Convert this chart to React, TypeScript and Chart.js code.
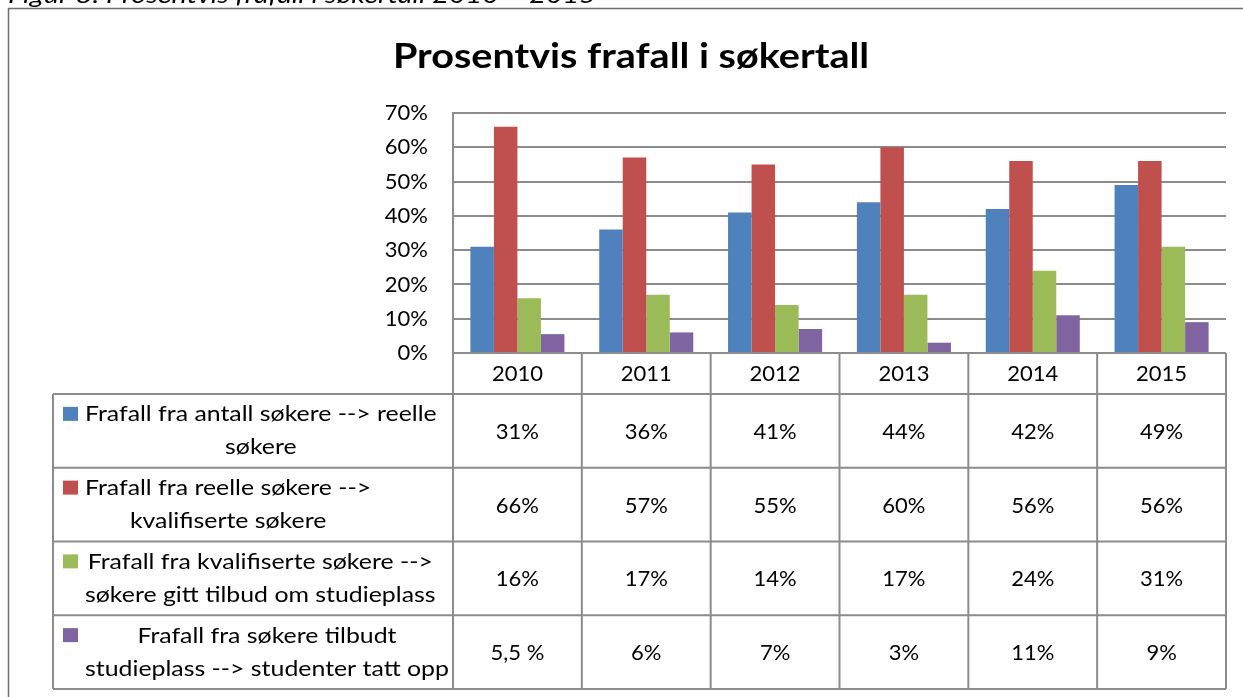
import { useEffect, useRef } from "react";
import { Chart, registerables } from "chart.js";

Chart.register(...registerables);

const FONT = "Lato, 'Open Sans', sans-serif";

const caption = "Figur 8: Prosentvis frafall i søkertall 2010 – 2015";
const title = "Prosentvis frafall i søkertall";

const years = ["2010", "2011", "2012", "2013", "2014", "2015"];

const seriesLabels = [
  ["Frafall fra antall søkere --> reelle", "søkere"],
  ["Frafall fra reelle søkere -->", "kvalifiserte søkere"],
  ["Frafall fra kvalifiserte søkere -->", "søkere gitt tilbud om studieplass"],
  ["Frafall fra søkere tilbudt", "studieplass --> studenter tatt opp"],
];

const antallTilReelle = [31, 36, 41, 44, 42, 49];
const reelleTilKvalifiserte = [66, 57, 55, 60, 56, 56];
const kvalifiserteTilTilbud = [16, 17, 14, 17, 24, 31];
const tilbudTilOpptatt = [5.5, 6, 7, 3, 11, 9];

const seriesValues = [antallTilReelle, reelleTilKvalifiserte, kvalifiserteTilTilbud, tilbudTilOpptatt];

const seriesColors = ["#4F81BD", "#C0504D", "#9BBB59", "#8064A2"];

const yTickValues = [0, 10, 20, 30, 40, 50, 60, 70];

const LINE = "#8c8c8c";
const TEXT_STRETCH = 1.13;

function fmt(v: number): string {
  return Number.isInteger(v) ? `${v}%` : `${String(v).replace(".", ",")} %`;
}

function stretchedText(ctx: CanvasRenderingContext2D, text: string, x: number, y: number, sx: number) {
  ctx.save();
  ctx.translate(x, y);
  ctx.scale(sx, 1);
  ctx.fillText(text, 0, 0);
  ctx.restore();
}

const extrasPlugin = {
  id: "figureExtras",
  afterDraw(chart: any) {
    const ctx: CanvasRenderingContext2D = chart.ctx;
    const area = chart.chartArea;
    const xs = chart.scales.x;
    const n = years.length;
    const colW = (area.right - area.left) / n;

    ctx.save();

    // caption (cut off at the top)
    ctx.fillStyle = "#000";
    ctx.font = `italic 24px ${FONT}`;
    ctx.textAlign = "left";
    ctx.textBaseline = "alphabetic";
    stretchedText(ctx, caption, 8, 3, 1.2);

    // outer frame
    ctx.strokeStyle = "#6e6e6e";
    ctx.lineWidth = 1.5;
    ctx.beginPath();
    ctx.moveTo(8.5, 697);
    ctx.lineTo(8.5, 8.5);
    ctx.lineTo(1243, 8.5);
    ctx.stroke();

    // title
    ctx.font = `bold 35px ${FONT}`;
    ctx.textAlign = "center";
    stretchedText(ctx, title, 631, 68, TEXT_STRETCH);

    // data table
    const headTop = area.bottom;
    const headBottom = headTop + 41;
    const rowH = 73.75;
    const tableBottom = headBottom + rowH * seriesLabels.length;
    const legendLeft = 53;

    ctx.strokeStyle = LINE;
    ctx.lineWidth = 2;
    ctx.beginPath();
    for (let r = 0; r <= seriesLabels.length; r++) {
      const y = headBottom + r * rowH;
      ctx.moveTo(legendLeft, y);
      ctx.lineTo(area.right, y);
    }
    ctx.moveTo(legendLeft, headBottom);
    ctx.lineTo(legendLeft, tableBottom);
    for (let i = 0; i <= n; i++) {
      const x = i < n ? xs.getPixelForValue(i) - colW / 2 : xs.getPixelForValue(n - 1) + colW / 2;
      ctx.moveTo(x, headTop);
      ctx.lineTo(x, tableBottom);
    }
    ctx.stroke();

    ctx.fillStyle = "#000";
    ctx.textAlign = "center";
    ctx.textBaseline = "middle";
    ctx.font = `22px ${FONT}`;
    years.forEach((yr, i) => {
      ctx.fillText(yr, xs.getPixelForValue(i), (headTop + headBottom) / 2);
    });

    seriesValues.forEach((vals, r) => {
      const cy = headBottom + r * rowH + rowH / 2;
      ctx.fillStyle = "#000";
      vals.forEach((v, i) => {
        ctx.fillText(fmt(v), xs.getPixelForValue(i), cy + 1);
      });
      // legend key
      ctx.fillStyle = seriesColors[r];
      ctx.fillRect(63, cy - 24, 15, 14);
      ctx.fillStyle = "#000";
      const lines = seriesLabels[r];
      const w = Math.max(...lines.map((l) => ctx.measureText(l).width)) * TEXT_STRETCH;
      const cx = 85 + w / 2;
      lines.forEach((l, k) => {
        stretchedText(ctx, l, cx, cy - 16.5 + k * 33, TEXT_STRETCH);
      });
    });

    ctx.restore();
  },
};

export default function App() {
  const ref = useRef<HTMLCanvasElement>(null);

  useEffect(() => {
    const chart = new Chart(ref.current as HTMLCanvasElement, {
      type: "bar",
      data: {
        labels: years,
        datasets: seriesValues.map((vals, i) => ({
          label: seriesLabels[i].join(" "),
          data: vals,
          backgroundColor: seriesColors[i],
          borderWidth: 0,
          categoryPercentage: 0.73,
          barPercentage: 1,
        })),
      },
      options: {
        animation: false,
        responsive: true,
        maintainAspectRatio: false,
        layout: { padding: { top: 113, right: 17, bottom: 344, left: 0 } },
        plugins: {
          legend: { display: false },
          title: { display: false },
          tooltip: { enabled: false },
        },
        scales: {
          x: { display: false },
          y: {
            min: 0,
            max: 70,
            afterFit: (s: any) => {
              s.width = 453;
            },
            afterBuildTicks: (s: any) => {
              s.ticks = yTickValues.map((v) => ({ value: v }));
            },
            ticks: {
              color: "#000",
              font: { family: FONT, size: 22 },
              padding: 25,
              callback: (v: any) => `${v}%`,
            },
            grid: { color: LINE, lineWidth: 2, drawTicks: false },
            border: { display: true, color: LINE, width: 2 },
          },
        },
      },
      plugins: [extrasPlugin],
    });
    return () => chart.destroy();
  }, []);

  return (
    <div style={{ position: "absolute", left: 0, top: 0, width: 1243, height: 697, background: "#fff" }}>
      <canvas ref={ref} />
    </div>
  );
}
